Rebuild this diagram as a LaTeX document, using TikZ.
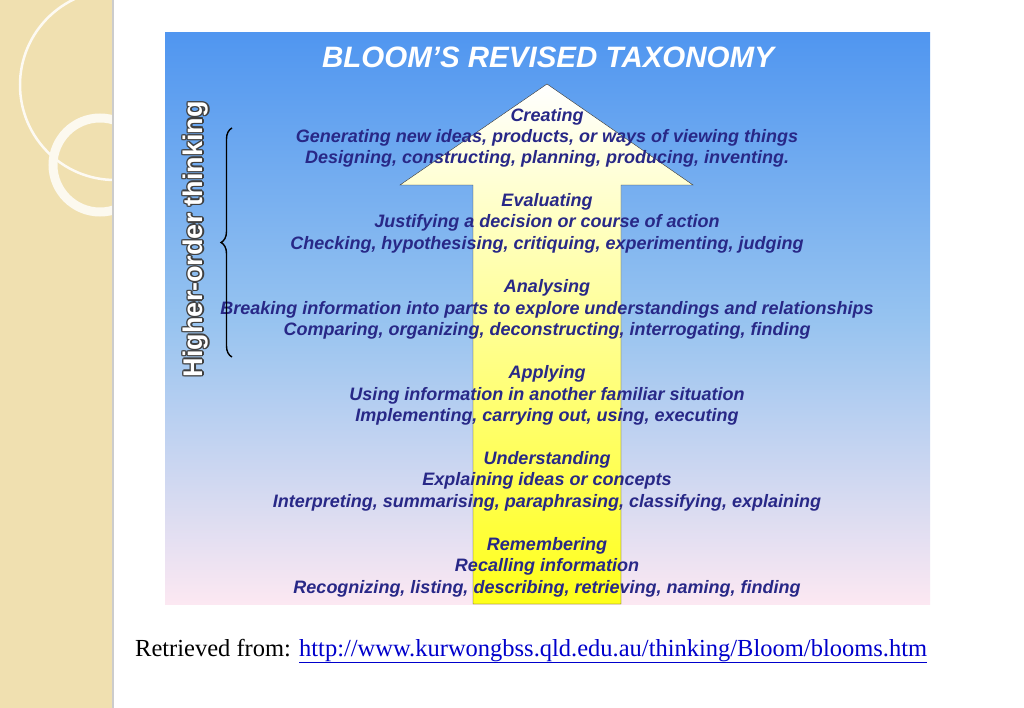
\documentclass[tikz,border=0pt]{standalone}
\usepackage{fontspec}
\setmainfont{Liberation Sans}
\newfontfamily\serifr{Liberation Serif}
\usetikzlibrary{decorations.pathreplacing}
\definecolor{tx}{RGB}{40,40,135}
\definecolor{beige}{RGB}{240,224,176}
\definecolor{topb}{RGB}{80,150,240}
\definecolor{midb}{RGB}{150,195,240}
\definecolor{botp}{RGB}{252,232,242}
\begin{document}
\begin{tikzpicture}[x=1pt,y=-1pt,
  hd/.style={font=\fontsize{18}{18}\selectfont\bfseries\itshape, text=tx, inner sep=0pt},
  ln/.style={font=\fontsize{18}{18}\selectfont\bfseries\itshape, text=tx, inner sep=0pt}]
\useasboundingbox (0,0) rectangle (1024,708);
\fill[white] (0,0) rectangle (1024,708);
\fill[beige] (0,0) rectangle (112,708);
\begin{scope}
\clip (0,0) rectangle (112,708);
\fill[black!10!beige] (92,0) arc (0:-90:92 and 85) -- (0,0) -- cycle;
\draw[white!85!beige, line width=2.5pt] (115,85) circle (95);
\draw[white!80!beige, line width=9pt] (100,165) circle (47);
\end{scope}
\fill[black!20] (112,0) rectangle (114,708);
\shade[top color=topb, bottom color=botp, middle color=midb] (165,33) rectangle (930,604);
\node[font=\fontsize{29.5}{30}\selectfont\bfseries\itshape, text=white] (title) at (548,57) {BLOOM’S REVISED TAXONOMY};
\shade[top color=white, bottom color=yellow!90!white, draw=black!80, thin]
  (473,604) -- (473,185) -- (400,185) -- (547,84) -- (693,185) -- (621,185) -- (621,604) -- cycle;
\node[hd] (c0) at (547,117) {Creating};
\node[ln] (c1) at (547,138) {Generating new ideas, products, or ways of viewing things};
\node[ln] (c2) at (547,159) {Designing, constructing, planning, producing, inventing.};
\node[hd] (e0) at (547,202) {Evaluating};
\node[ln] (e1) at (547,223) {Justifying a decision or course of action};
\node[ln] (e2) at (547,245) {Checking, hypothesising, critiquing, experimenting, judging};
\node[hd] (a0) at (547,288) {Analysing};
\node[ln] (a1) at (547,310) {Breaking information into parts to explore understandings and relationships};
\node[ln] (a2) at (547,331) {Comparing, organizing, deconstructing, interrogating, finding};
\node[hd] (p0) at (547,374) {Applying};
\node[ln] (p1) at (547,396) {Using information in another familiar situation};
\node[ln] (p2) at (547,417) {Implementing, carrying out, using, executing};
\node[hd] (u0) at (547,460) {Understanding};
\node[ln] (u1) at (547,481) {Explaining ideas or concepts};
\node[ln] (u2) at (547,503) {Interpreting, summarising, paraphrasing, classifying, explaining};
\node[hd] (r0) at (547,546) {Remembering};
\node[ln] (r1) at (547,567) {Recalling information};
\node[ln] (r2) at (547,589) {Recognizing, listing, describing, retrieving, naming, finding};
\coordinate (bt) at (232,128);
\coordinate (bb) at (232,357);
\draw[black, line width=1.4pt, decorate, decoration={brace, amplitude=11pt}] (bb) -- (bt);
\foreach \dx/\dy in {-1.4/0,1.4/0,0/-1.4,0/1.4,-1/-1,1/1,-1/1,1/-1}
  \node[rotate=90, font=\fontsize{27}{27}\selectfont\bfseries, text=black!75] at (196+\dx,239+\dy) {Higher-order thinking};
\node[rotate=90, font=\fontsize{27}{27}\selectfont\bfseries, text=white] (hot) at (196,239) {Higher-order thinking};
\node[anchor=base west, inner sep=0pt, font=\serifr\fontsize{24.5}{25}\selectfont] (ret) at (135,656)
  {Retrieved from: \textcolor{blue!80!black}{\underline{http://www.kurwongbss.qld.edu.au/thinking/Bloom/blooms.htm}}};
\end{tikzpicture}
\end{document}
